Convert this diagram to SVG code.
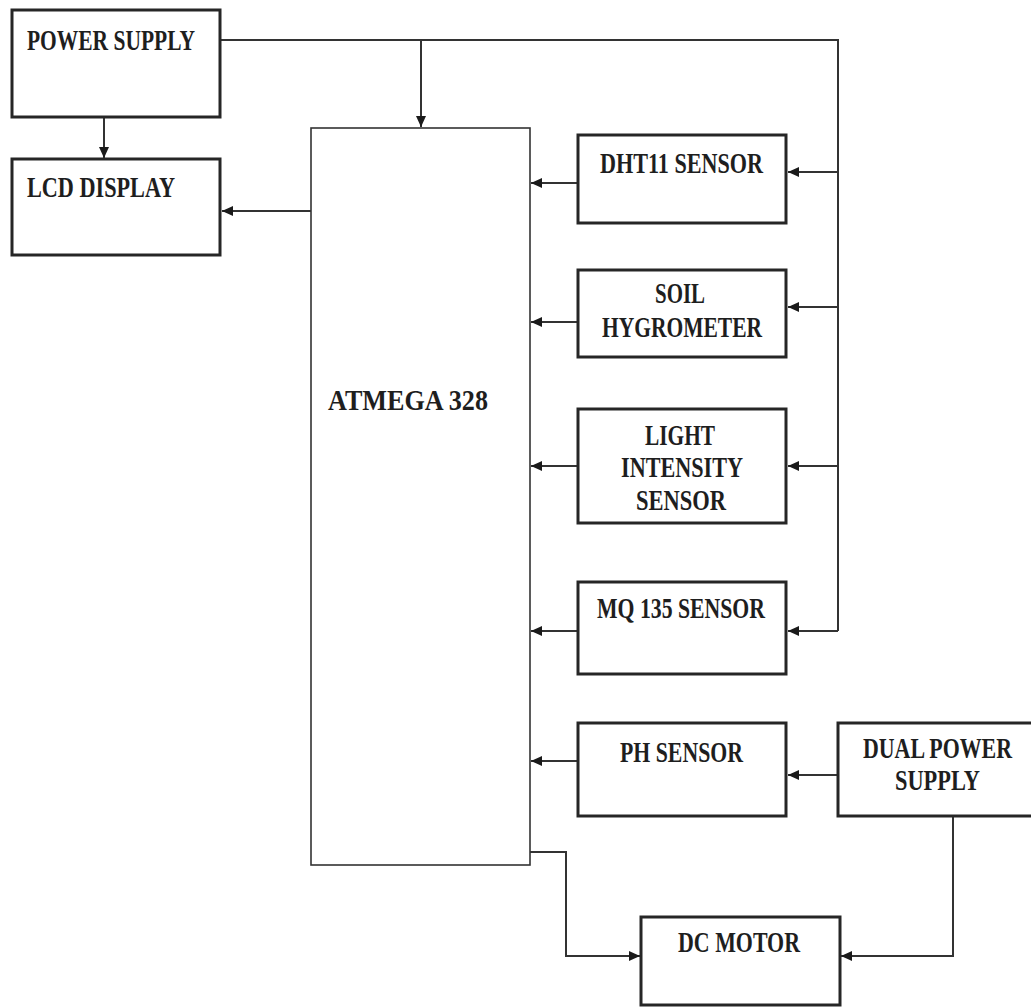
<svg xmlns="http://www.w3.org/2000/svg" width="1031" height="1007" viewBox="0 0 1031 1007">
<style>
.box{fill:#fff;stroke:#262626;stroke-width:3}
.mcu{fill:#fff;stroke:#333;stroke-width:1.6}
.wire{fill:none;stroke:#333;stroke-width:2}
.lbl{font-family:"Liberation Serif","Times New Roman",serif;font-weight:bold;font-size:29px;fill:#1e1e1e}
</style>
<defs>
<marker id="ah" markerUnits="userSpaceOnUse" markerWidth="12" markerHeight="10" refX="11" refY="5" orient="auto">
<path d="M0,0 L11,5 L0,10 z" fill="#1a1a1a"/>
</marker>
</defs>
<rect width="1031" height="1007" fill="#fff"/>
<g id="connectors">
<path class="wire" d="M104,118 V158" marker-end="url(#ah)"/>
<path class="wire" d="M221,40 H838 V631"/>
<path class="wire" d="M421,40 V127" marker-end="url(#ah)"/>
<path class="wire" d="M838,172 H788" marker-end="url(#ah)"/>
<path class="wire" d="M838,307 H788" marker-end="url(#ah)"/>
<path class="wire" d="M838,466 H788" marker-end="url(#ah)"/>
<path class="wire" d="M838,631 H788" marker-end="url(#ah)"/>
<path class="wire" d="M577,183 H531" marker-end="url(#ah)"/>
<path class="wire" d="M577,322 H531" marker-end="url(#ah)"/>
<path class="wire" d="M577,466 H531" marker-end="url(#ah)"/>
<path class="wire" d="M577,631 H531" marker-end="url(#ah)"/>
<path class="wire" d="M577,761 H531" marker-end="url(#ah)"/>
<path class="wire" d="M311,211 H222" marker-end="url(#ah)"/>
<path class="wire" d="M838,775 H788" marker-end="url(#ah)"/>
<path class="wire" d="M953,817 V956 H841" marker-end="url(#ah)"/>
<path class="wire" d="M530,852 H566 V956 H640" marker-end="url(#ah)"/>
</g>
<g id="power-supply">
<rect class="box" x="12" y="10" width="208" height="107"/>
<text class="lbl" x="27" y="50" textLength="168" lengthAdjust="spacingAndGlyphs">POWER SUPPLY</text>
</g>
<g id="lcd-display">
<rect class="box" x="12" y="159" width="208" height="96"/>
<text class="lbl" x="27" y="197" textLength="148" lengthAdjust="spacingAndGlyphs">LCD DISPLAY</text>
</g>
<g id="atmega">
<rect class="mcu" x="311" y="128" width="219" height="737"/>
<text class="lbl" x="328" y="410" textLength="160" lengthAdjust="spacingAndGlyphs">ATMEGA 328</text>
</g>
<g id="dht11">
<rect class="box" x="578" y="135" width="208" height="88"/>
<text class="lbl" x="600" y="173" textLength="163" lengthAdjust="spacingAndGlyphs">DHT11 SENSOR</text>
</g>
<g id="soil">
<rect class="box" x="578" y="270" width="208" height="87"/>
<text class="lbl" x="655" y="303" textLength="50" lengthAdjust="spacingAndGlyphs">SOIL</text>
<text class="lbl" x="602" y="337" textLength="160" lengthAdjust="spacingAndGlyphs">HYGROMETER</text>
</g>
<g id="light">
<rect class="box" x="578" y="409" width="208" height="114"/>
<text class="lbl" x="645" y="445" textLength="70" lengthAdjust="spacingAndGlyphs">LIGHT</text>
<text class="lbl" x="621" y="477" textLength="122" lengthAdjust="spacingAndGlyphs">INTENSITY</text>
<text class="lbl" x="636" y="510" textLength="90" lengthAdjust="spacingAndGlyphs">SENSOR</text>
</g>
<g id="mq135">
<rect class="box" x="578" y="582" width="208" height="92"/>
<text class="lbl" x="597" y="618" textLength="168" lengthAdjust="spacingAndGlyphs">MQ 135 SENSOR</text>
</g>
<g id="ph">
<rect class="box" x="578" y="723" width="208" height="93"/>
<text class="lbl" x="620" y="762" textLength="123" lengthAdjust="spacingAndGlyphs">PH SENSOR</text>
</g>
<g id="dual-power">
<path class="box" d="M1031,723 H838 V816 H1031"/>
<text class="lbl" transform="translate(863,758) scale(0.755,1)">DUAL POWER</text>
<text class="lbl" x="895" y="790" textLength="85" lengthAdjust="spacingAndGlyphs">SUPPLY</text>
</g>
<g id="dc-motor">
<rect class="box" x="641" y="917" width="199" height="88"/>
<text class="lbl" x="678" y="952" textLength="122" lengthAdjust="spacingAndGlyphs">DC MOTOR</text>
</g>
</svg>
